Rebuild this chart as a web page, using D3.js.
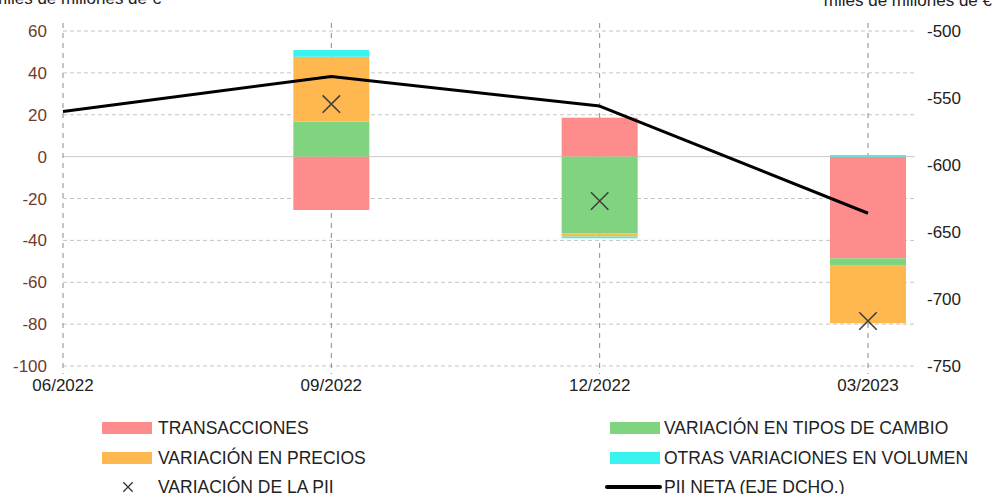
<!DOCTYPE html>
<html><head><meta charset="utf-8">
<script src="https://cdn.jsdelivr.net/npm/d3@7"></script>
<style>
body{margin:0;background:#fff;}
svg text{font-family:"Liberation Sans Narrow","Arial Narrow","Liberation Sans",sans-serif;}
</style></head>
<body><svg id="c" width="997" height="494"></svg>
<script>
const categories = ["06/2022","09/2022","12/2022","03/2023"];
const transacciones = [null, -25.5, 18.6, -48.6];
const tiposCambio = [null, 16.7, -36.6, -3.2];
const precios = [null, 31.0, -1.6, -27.8];
const otras = [null, 3.2, -0.8, 0.8];
const variacionPII = [null, 25.1, -21.2, -78.5];
const piiNeta = [-560, -534, -556, -636];
const leftTicks = [60,40,20,0,-20,-40,-60,-80,-100];
const rightTicks = [-500,-550,-600,-650,-700,-750];

const seriesNames = ["TRANSACCIONES","VARIACIÓN EN TIPOS DE CAMBIO","VARIACIÓN EN PRECIOS","OTRAS VARIACIONES EN VOLUMEN"];
const seriesData = [transacciones, tiposCambio, precios, otras];
const colors = ["#ff8c8c","#80d47f","#ffb84f","#38f3ef"];

const svg = d3.select("#c");
const L=63, R=915, T=31, B=366;
const x = d3.scaleLinear().domain([0,3]).range([63,868]);
const y = d3.scaleLinear().domain([-100,60]).range([B,T]);
const y2 = d3.scaleLinear().domain([-750,-500]).range([B,T]);

// horizontal grid
svg.append("g").selectAll("line").data(leftTicks).join("line")
  .attr("x1",L).attr("x2",R).attr("y1",d=>y(d)).attr("y2",d=>y(d))
  .attr("stroke",d=>d===0?"#c8c8c8":"#c4c4c4").attr("stroke-width",1)
  .attr("stroke-dasharray",d=>d===0?null:"4,3");
// vertical grid
svg.append("g").selectAll("line").data(categories).join("line")
  .attr("x1",(d,i)=>x(i)).attr("x2",(d,i)=>x(i)).attr("y1",T-8).attr("y2",B+8)
  .attr("stroke","#8a8a8a").attr("stroke-width",1).attr("stroke-dasharray","5,5");

// stacked bars
const bw = 76;
categories.forEach((c,i)=>{
  let pos=0, neg=0;
  seriesData.forEach((s,k)=>{
    const v=s[i]; if(v==null) return;
    let y0,y1;
    if(v>=0){y0=pos; y1=pos+v; pos=y1;} else {y0=neg; y1=neg+v; neg=y1;}
    svg.append("rect").attr("x",x(i)-bw/2).attr("width",bw)
      .attr("y",y(Math.max(y0,y1))).attr("height",Math.abs(y(y0)-y(y1)))
      .attr("fill",colors[k]);
  });
});

// line
svg.append("path").datum(piiNeta)
  .attr("d",d3.line().x((d,i)=>x(i)).y(d=>y2(d)))
  .attr("fill","none").attr("stroke","#000").attr("stroke-width",3).attr("stroke-linejoin","round");

// X markers
const sym = d3.symbol().type(d3.symbolX).size(200);
variacionPII.forEach((v,i)=>{
  if(v==null) return;
  svg.append("path").attr("d",sym()).attr("transform",`translate(${x(i)},${y(v)})`)
    .attr("fill","none").attr("stroke","#404040").attr("stroke-width",1.6);
});

// left axis labels
svg.append("g").selectAll("text").data(leftTicks).join("text")
  .attr("x",47).attr("y",d=>y(d)+6).attr("text-anchor","end")
  .attr("font-size",17).attr("fill","#6e3b2e").text(d=>d);
// right axis labels
svg.append("g").selectAll("text").data(rightTicks).join("text")
  .attr("x",927).attr("y",d=>y2(d)+6).attr("text-anchor","start")
  .attr("font-size",17).attr("fill","#222").text(d=>d);
// x labels
svg.append("g").selectAll("text").data(categories).join("text")
  .attr("x",(d,i)=>x(i)).attr("y",391).attr("text-anchor","middle")
  .attr("font-size",17).attr("fill","#222").text(d=>d);

// axis titles
svg.append("text").attr("x",-7).attr("y",4).attr("font-size",17).attr("fill","#222").text("miles de millones de €");
svg.append("text").attr("x",992).attr("y",6).attr("text-anchor","end").attr("font-size",17).attr("fill","#222").text("miles de millones de €");

// legend
const leg = [
  {t:"rect",c:colors[0],n:seriesNames[0],x:102,tx:158,y:428},
  {t:"rect",c:colors[1],n:seriesNames[1],x:610,tx:664,y:428},
  {t:"rect",c:colors[2],n:seriesNames[2],x:102,tx:158,y:458},
  {t:"rect",c:colors[3],n:seriesNames[3],x:610,tx:664,y:458},
  {t:"x",n:"VARIACIÓN DE LA PII",x:102,tx:158,y:487},
  {t:"line",n:"PII NETA (EJE DCHO.)",x:610,tx:664,y:487}
];
leg.forEach(d=>{
  if(d.t==="rect") svg.append("rect").attr("x",d.x).attr("y",d.y-6).attr("width",50).attr("height",12).attr("fill",d.c);
  else if(d.t==="line") svg.append("line").attr("x1",d.x-3).attr("x2",d.x+50).attr("y1",d.y).attr("y2",d.y).attr("stroke","#000").attr("stroke-width",4).attr("stroke-linecap","round");
  else svg.append("path").attr("d",d3.symbol().type(d3.symbolX).size(60)()).attr("transform",`translate(${d.x+26},${d.y})`).attr("fill","none").attr("stroke","#333").attr("stroke-width",1.3);
  svg.append("text").attr("x",d.tx).attr("y",d.y+6).attr("font-size",17.5).attr("fill","#222").text(d.n);
});
</script></body></html>
